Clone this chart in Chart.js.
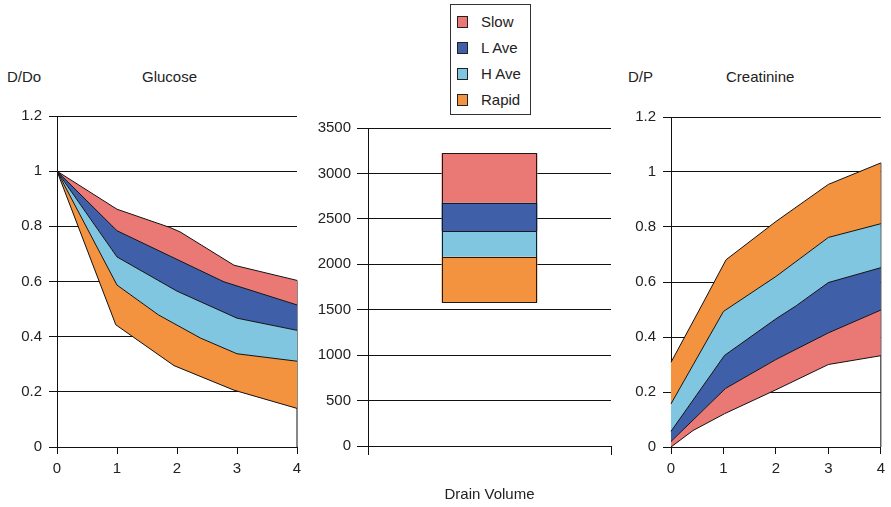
<!DOCTYPE html>
<html>
<head>
<meta charset="utf-8">
<script src="https://cdn.jsdelivr.net/npm/chart.js@4"></script>
<style>
  body { margin: 0; background: #fff; width: 891px; height: 507px; position: relative; overflow: hidden;
         font-family: "Liberation Sans", Arial, sans-serif; color: #222; }
  canvas { position: absolute; }
  .lbl { position: absolute; font-size: 15px; line-height: 18px; white-space: nowrap; }
  #legend { position: absolute; left: 450px; top: 4px; width: 79px; height: 109px; border: 1px solid #333; }
  .item { position: absolute; left: 0; width: 79px; height: 18px; font-size: 15px; line-height: 18px; white-space: nowrap; }
  .sw { position: absolute; left: 6px; top: 3px; width: 9px; height: 10px; border: 1px solid #222; }
  .txt { position: absolute; left: 30px; top: 0; }
</style>
</head>
<body>
<div class="lbl" style="left:7px;top:68px">D/Do</div>
<div class="lbl" style="left:142px;top:68px">Glucose</div>
<div class="lbl" style="left:628px;top:68px">D/P</div>
<div class="lbl" style="left:726px;top:68px">Creatinine</div>
<div id="legend"></div>

<canvas id="glucose" width="310" height="400" style="left:0;top:100px"></canvas>
<canvas id="drain" width="320" height="407" style="left:300px;top:100px"></canvas>
<canvas id="creat" width="291" height="400" style="left:600px;top:100px"></canvas>

<script>
// series names and colours
const seriesNames = ['Slow', 'L Ave', 'H Ave', 'Rapid'];
const seriesColors = ['#EA7975', '#3F5FA8', '#80C6E0', '#F4933F'];

// tick labels
const ratioTicks = [0, 0.2, 0.4, 0.6, 0.8, 1, 1.2];
const hourTicks = [0, 1, 2, 3, 4];
const volumeTicks = [0, 500, 1000, 1500, 2000, 2500, 3000, 3500];
const drainCategories = [''];

// Glucose D/Do boundaries (x = hours)
const gluRapidLowX = [0, 0.98, 1.95, 2.95, 4];
const gluRapidLowY = [1, 0.443, 0.295, 0.206, 0.14];
const gluRapidTopX = [0, 1, 1.69, 2.39, 3, 4];
const gluRapidTopY = [1, 0.587, 0.479, 0.395, 0.338, 0.311];
const gluHAveTopX = [0, 1, 2, 3, 4];
const gluHAveTopY = [1, 0.689, 0.565, 0.467, 0.423];
const gluLAveTopX = [0, 1, 2.78, 4];
const gluLAveTopY = [1, 0.784, 0.599, 0.515];
const gluSlowTopX = [0, 1, 1.88, 2.05, 2.95, 4];
const gluSlowTopY = [1, 0.862, 0.796, 0.78, 0.659, 0.604];

// Drain volume ranges (ml)
const drainLow = [2680, 2365, 2085, 1580];
const drainHigh = [3220, 2680, 2365, 2085];

// Creatinine D/P boundaries
const crSlowLowX = [0, 0.42, 1.02, 2, 3, 4];
const crSlowLowY = [0, 0.06, 0.121, 0.208, 0.3, 0.332];
const crSlowTopX = [0, 1.04, 2, 3, 4];
const crSlowTopY = [0.02, 0.213, 0.318, 0.415, 0.498];
const crLAveTopX = [0, 1.02, 2, 2.39, 3, 4];
const crLAveTopY = [0.057, 0.333, 0.466, 0.514, 0.598, 0.652];
const crHAveTopX = [0, 1, 2, 3, 4];
const crHAveTopY = [0.157, 0.493, 0.62, 0.762, 0.812];
const crRapidTopX = [0, 0.6, 1.05, 2, 3, 4];
const crRapidTopY = [0.308, 0.52, 0.681, 0.82, 0.955, 1.033];

const ink = '#111';
const font = { family: '"Liberation Sans", Arial, sans-serif', size: 15 };

// legend
const legend = document.getElementById('legend');
seriesNames.forEach((name, i) => {
    const item = document.createElement('div');
    item.className = 'item';
    item.style.top = (8 + i * 26) + 'px';
    item.innerHTML = `<span class="sw" style="background:${seriesColors[i]}"></span><span class="txt">${name}</span>`;
    legend.appendChild(item);
});

function pts(xs, ys) {
    return xs.map((x, i) => ({ x: x, y: ys[i] }));
}

function area(xs, ys, color, fill) {
    return {
        data: pts(xs, ys),
        borderColor: ink,
        borderWidth: 1,
        backgroundColor: color || 'transparent',
        fill: fill,
        pointRadius: 0,
        tension: 0,
        clip: 4,
    };
}

function fixedTicks(values) {
    return scale => { scale.ticks = values.map(v => ({ value: v })); };
}

const plainLabel = v => String(v);

function lineScales(yWidth) {
    return {
        x: {
            type: 'linear', min: 0, max: 4,
            afterBuildTicks: fixedTicks(hourTicks),
            ticks: { color: '#222', font: font, padding: 6, maxRotation: 0, callback: plainLabel },
            grid: { drawOnChartArea: false, tickLength: 7, color: ink },
            border: { color: ink },
            afterFit: s => { s.height = 30; },
        },
        y: {
            min: 0, max: 1.2,
            afterBuildTicks: fixedTicks(ratioTicks),
            ticks: { color: '#222', font: font, padding: 7, callback: plainLabel },
            grid: { tickLength: 8, color: ink },
            border: { color: ink },
            afterFit: s => { s.width = yWidth; },
        },
    };
}

const common = {
    responsive: false,
    animation: false,
    plugins: { legend: { display: false }, tooltip: { enabled: false } },
};

// crisp 1px outline round each bar segment
const barOutline = {
    id: 'barOutline',
    afterDatasetsDraw(chart) {
        const ctx = chart.ctx;
        ctx.save();
        ctx.strokeStyle = '#1a1a1a';
        ctx.lineWidth = 1;
        chart.data.datasets.forEach((ds, i) => {
            chart.getDatasetMeta(i).data.forEach(bar => {
                const p = bar.getProps(['x', 'y', 'base', 'width']);
                const l = Math.round(p.x - p.width / 2) + 0.5;
                const r = Math.round(p.x + p.width / 2) - 0.5;
                const t = Math.round(Math.min(p.y, p.base)) + 0.5;
                const b = Math.round(Math.max(p.y, p.base)) + 0.5;
                ctx.strokeRect(l, t, r - l, b - t);
            });
        });
        ctx.restore();
    },
};

// Glucose
new Chart(document.getElementById('glucose'), {
    type: 'line',
    data: {
        datasets: [
            area(gluRapidLowX, gluRapidLowY, null, false),
            area(gluRapidTopX, gluRapidTopY, seriesColors[3], '-1'),
            area(gluHAveTopX, gluHAveTopY, seriesColors[2], '-1'),
            area(gluLAveTopX, gluLAveTopY, seriesColors[1], '-1'),
            area(gluSlowTopX, gluSlowTopY, seriesColors[0], '-1'),
            area([4, 4], [0, gluSlowTopY[gluSlowTopY.length - 1]], null, false),
        ],
    },
    options: Object.assign({}, common, {
        layout: { padding: { top: 12, right: 13, bottom: 23, left: 0 } },
        scales: lineScales(57),
    }),
});

// Drain volume
new Chart(document.getElementById('drain'), {
    type: 'bar',
    data: {
        labels: drainCategories,
        datasets: seriesNames.map((name, i) => ({
            label: name,
            data: [[drainLow[i], drainHigh[i]]],
            backgroundColor: seriesColors[i],
            borderWidth: 0,
            barPercentage: 0.395,
            categoryPercentage: 1,
        })),
    },
    plugins: [barOutline],
    options: Object.assign({}, common, {
        layout: { padding: { top: 28, right: 9, bottom: 3, left: 0 } },
        scales: {
            x: {
                stacked: true,
                ticks: { display: true, font: font },
                grid: { offset: true, drawOnChartArea: false, tickLength: 9, color: ink },
                border: { color: ink },
                title: { display: true, text: 'Drain Volume', color: '#222', font: font, padding: 0 },
                afterFit: s => { s.height = 58; },
            },
            y: {
                min: 0, max: 3500,
                afterBuildTicks: fixedTicks(volumeTicks),
                ticks: { color: '#222', font: font, padding: 6, callback: plainLabel },
                grid: { tickLength: 11, color: ink },
                border: { color: ink },
                afterFit: s => { s.width = 68; },
            },
        },
    }),
});

// Creatinine
new Chart(document.getElementById('creat'), {
    type: 'line',
    data: {
        datasets: [
            area(crSlowLowX, crSlowLowY, null, false),
            area(crSlowTopX, crSlowTopY, seriesColors[0], '-1'),
            area(crLAveTopX, crLAveTopY, seriesColors[1], '-1'),
            area(crHAveTopX, crHAveTopY, seriesColors[2], '-1'),
            area(crRapidTopX, crRapidTopY, seriesColors[3], '-1'),
            area([4, 4], [0, crRapidTopY[crRapidTopY.length - 1]], null, false),
        ],
    },
    options: Object.assign({}, common, {
        layout: { padding: { top: 17, right: 5, bottom: 23, left: 0 } },
        scales: lineScales(71),
    }),
});
</script>
</body>
</html>
